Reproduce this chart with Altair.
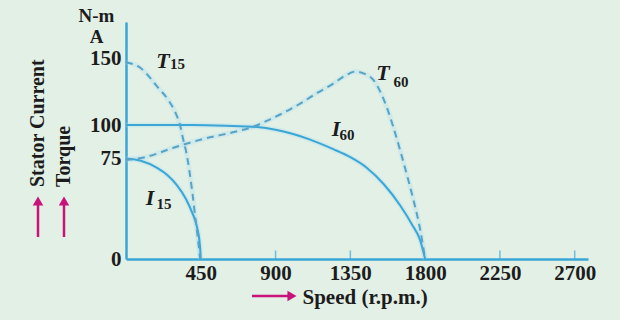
import altair as alt
import pandas as pd

# ---- data ----
i15_speed = [0, 84, 187, 250, 307, 360, 397, 427, 445, 450]
i15_val = [75, 73.5, 68, 62.5, 55, 45, 35, 24, 10, 0]

t15_speed = [0, 84, 193, 253, 295, 325, 343, 367, 380, 400, 415, 432, 446]
t15_val = [147, 143, 128, 119, 110, 100, 90, 77, 67, 49, 33, 16, 0]

i60_speed = [0, 400, 600, 790, 900, 1000, 1100, 1247, 1350, 1450, 1550, 1650, 1720, 1770, 1800]
i60_val = [100, 100, 99.5, 98.5, 96.5, 93.5, 89.5, 82, 76, 68, 56, 40, 26, 14, 0]

t60_speed = [0, 114, 295, 475, 656, 759, 879, 1048, 1150, 1247, 1320, 1380, 1440, 1487,
             1530, 1570, 1610, 1650, 1690, 1730, 1770, 1800]
t60_val = [74, 76, 83.5, 90, 95, 98.5, 105, 116, 124, 131, 137, 140, 138, 134,
           125, 113, 98, 81, 63, 44, 22, 0]

x_ticks = [450, 900, 1350, 1800, 2250, 2700]
y_ticks = [0, 75, 100, 150]

label_main = ["T", "T", "I", "I"]
label_sub = ["15", "60", "60", "15"]
label_main_speed = [223, 1547, 1264, 144]
label_main_val = [148, 139, 97, 45.5]
label_sub_speed = [310, 1655, 1330, 228]
label_sub_val = [146, 132, 92.5, 41]

# ---- tables ----
rows = []
for name, sp, vl, dash in [("I15", i15_speed, i15_val, "solid"),
                           ("T15", t15_speed, t15_val, "dash"),
                           ("I60", i60_speed, i60_val, "solid"),
                           ("T60", t60_speed, t60_val, "dash")]:
    for s, v in zip(sp, vl):
        rows.append({"series": name, "speed": s, "value": v, "style": dash})
df = pd.DataFrame(rows)

labels = pd.DataFrame({"main": label_main, "sub": label_sub,
                       "ms": label_main_speed, "mv": label_main_val,
                       "ss": label_sub_speed, "sv": label_sub_val})
ticks = pd.DataFrame({"speed": [t for t in x_ticks if t not in (450, 1800)], "value": 0})
one = pd.DataFrame({"k": [0]})

BLUE = "#3aa6d6"
DASH = "#56a3c6"
MAG = "#c8137a"
INK = "#1c1c1c"
FONT = "Liberation Serif"

xs = alt.Scale(domain=[0, 2780], nice=False, zero=True)
ys = alt.Scale(domain=[0, 177], nice=False)

xaxis = alt.Axis(values=x_ticks, format="d", grid=False, domainColor=BLUE, domainWidth=2.5,
                 ticks=False, labelPadding=3, labelFont=FONT, labelFontSize=21,
                 labelFontWeight="bold", labelColor=INK, labelFlush=False,
                 title="Speed (r.p.m.)", titleFont=FONT, titleFontSize=21,
                 titleFontWeight="bold", titleColor=INK,
                 titleAnchor="start", titleX=176, titleY=38, titleAlign="left",
                 titleBaseline="middle")
yaxis = alt.Axis(values=y_ticks, format="d", grid=False, domainColor=BLUE, domainWidth=2.5,
                 ticks=False, labelPadding=5, labelFont=FONT, labelFontSize=21,
                 labelFontWeight="bold", labelColor=INK, labelFlush=False,
                 title=["N-m", "A"], titleAngle=0, titleFont=FONT, titleFontSize=19,
                 titleFontWeight="bold", titleColor=INK,
                 titleX=-30, titleY=-15.5, titleAlign="center", titleBaseline="top",
                 titleLineHeight=21)

base = alt.Chart(df)

halo = base.mark_line(interpolate="monotone", strokeWidth=5, opacity=0.3, color="#a5dcf2").encode(
    x=alt.X("speed:Q", scale=xs, axis=xaxis),
    y=alt.Y("value:Q", scale=ys, axis=yaxis),
    detail="series:N",
)

solid = alt.Chart(df[df["style"] == "solid"]).mark_line(
    interpolate="monotone", strokeWidth=2, color=BLUE).encode(
    x=alt.X("speed:Q", scale=xs),
    y=alt.Y("value:Q", scale=ys),
    detail="series:N",
)

dashed = alt.Chart(df[df["style"] == "dash"]).mark_line(
    interpolate="monotone", strokeWidth=2, color=DASH, strokeDash=[7, 5]).encode(
    x=alt.X("speed:Q", scale=xs),
    y=alt.Y("value:Q", scale=ys),
    detail="series:N",
)

tick_marks = alt.Chart(ticks).mark_tick(orient="vertical", size=9, thickness=1.5,
                                         color=BLUE, yOffset=-4).encode(
    x=alt.X("speed:Q", scale=xs),
    y=alt.Y("value:Q", scale=ys),
)

lab_main = alt.Chart(labels).mark_text(font=FONT, fontSize=22, fontStyle="italic",
                                       fontWeight="bold", color=INK).encode(
    x=alt.X("ms:Q", scale=xs), y=alt.Y("mv:Q", scale=ys), text="main:N")
lab_sub = alt.Chart(labels).mark_text(font=FONT, fontSize=15, fontWeight="bold",
                                      color=INK).encode(
    x=alt.X("ss:Q", scale=xs), y=alt.Y("sv:Q", scale=ys), text="sub:N")

# left titles and arrows (annotations)
stator = alt.Chart(one).mark_text(text="Stator Current", angle=270, align="left",
                                  baseline="middle", font=FONT, fontSize=20,
                                  fontWeight="bold", color=INK).encode(
    x=alt.value(-88), y=alt.value(165))
torque = alt.Chart(one).mark_text(text="Torque", angle=270, align="left",
                                  baseline="middle", font=FONT, fontSize=20,
                                  fontWeight="bold", color=INK).encode(
    x=alt.value(-62), y=alt.value(165))
arrow_l1 = alt.Chart(one).mark_rule(color=MAG, strokeWidth=2.5).encode(
    x=alt.value(-88), y=alt.value(215), y2=alt.value(182))
arrow_l2 = alt.Chart(one).mark_rule(color=MAG, strokeWidth=2.5).encode(
    x=alt.value(-62), y=alt.value(215), y2=alt.value(182))
head_l1 = alt.Chart(one).mark_point(shape="triangle-up", filled=True, size=110,
                                    color=MAG, opacity=1).encode(
    x=alt.value(-88), y=alt.value(179))
head_l2 = alt.Chart(one).mark_point(shape="triangle-up", filled=True, size=110,
                                    color=MAG, opacity=1).encode(
    x=alt.value(-62), y=alt.value(179))
arrow_b = alt.Chart(one).mark_rule(color=MAG, strokeWidth=2.5).encode(
    x=alt.value(126), x2=alt.value(162), y=alt.value(274))
head_b = alt.Chart(one).mark_point(shape="triangle-right", filled=True, size=110,
                                   color=MAG, opacity=1).encode(
    x=alt.value(166), y=alt.value(274))

chart = alt.layer(
    halo, solid, dashed, tick_marks, lab_main, lab_sub,
    stator, torque, arrow_l1, arrow_l2, head_l1, head_l2, arrow_b, head_b
).properties(
    width=462, height=237,
    autosize="none",
    padding={"left": 126, "top": 22, "right": 32, "bottom": 61},
    background="#e3f0e6",
).configure_view(stroke="transparent")

chart.save("out.html", embed_options={"renderer": "svg", "actions": False})
